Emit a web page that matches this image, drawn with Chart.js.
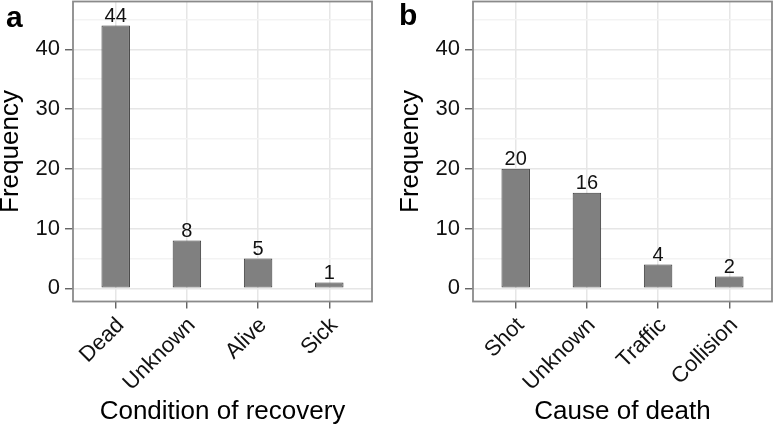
<!DOCTYPE html>
<html>
<head>
<meta charset="utf-8">
<script src="https://cdn.jsdelivr.net/npm/chart.js@4"></script>
<style>
  html, body { margin: 0; padding: 0; background: #fff; }
  body { width: 775px; height: 426px; position: relative; overflow: hidden; font-family: "Liberation Sans", Arial, sans-serif; }
  .panel { position: absolute; top: 0; height: 426px; }
  .letter { position: absolute; font-weight: bold; font-size: 30px; color: #000; line-height: 1; }
</style>
</head>
<body>
<div class="panel" id="pa" style="left:0;width:387px;"><canvas id="ca"></canvas></div>
<div class="panel" id="pb" style="left:400px;width:375px;"><canvas id="cb"></canvas></div>
<div class="letter" style="left:6px;top:2px;">a</div>
<div class="letter" style="left:399px;top:0px;">b</div>
<script>
// ---- data ----
const recoveryCategories = ["Dead", "Unknown", "Alive", "Sick"];
const recoveryCounts = [44, 8, 5, 1];
const deathCategories = ["Shot", "Unknown", "Traffic", "Collision"];
const deathCounts = [20, 16, 4, 2];
const yTickValues = [0, 5, 10, 15, 20, 25, 30, 35, 40, 45];
const yTickLabels = ["0", "", "10", "", "20", "", "30", "", "40", ""];
const yLimits = [-2.2, 48];
const xTitles = ["Condition of recovery", "Cause of death"];
const yTitle = "Frequency";

const FONT = "'Liberation Sans', Arial, Helvetica, sans-serif";

const borderPlugin = {
  id: 'panelBorder',
  afterDraw(chart) {
    const a = chart.chartArea, ctx = chart.ctx;
    ctx.save();
    ctx.strokeStyle = '#8a8a8a';
    ctx.lineWidth = 1.8;
    ctx.strokeRect(a.left, a.top, a.right - a.left, a.bottom - a.top);
    ctx.restore();
  }
};
const valueLabelPlugin = {
  id: 'valueLabels',
  afterDatasetsDraw(chart) {
    const ctx = chart.ctx;
    const meta = chart.getDatasetMeta(0);
    const ds = chart.data.datasets[0];
    ctx.save();
    ctx.font = "20px " + FONT;
    ctx.fillStyle = '#111';
    ctx.textAlign = 'center';
    ctx.textBaseline = 'alphabetic';
    meta.data.forEach((bar, i) => {
      ctx.fillText(String(ds.data[i].y), bar.x, bar.y - 3.5);
    });
    ctx.restore();
  }
};

function makeChart(canvasId, cats, counts, xTitle, rightPad) {
  const points = counts.map((v, i) => ({ x: i, y: v }));
  return new Chart(document.getElementById(canvasId), {
    type: 'bar',
    data: {
      datasets: [{
        data: points,
        backgroundColor: '#808080',
        borderColor: '#3a3a3a',
        borderWidth: 1,
        borderSkipped: false,
        barPercentage: 0.4,
        categoryPercentage: 1.0
      }]
    },
    plugins: [borderPlugin, valueLabelPlugin],
    options: {
      responsive: true,
      maintainAspectRatio: false,
      animation: false,
      layout: { padding: { top: 1.5, right: rightPad, bottom: 0, left: 0 } },
      plugins: { legend: { display: false }, tooltip: { enabled: false } },
      scales: {
        x: {
          type: 'linear',
          offset: false,
          min: -0.6,
          max: cats.length - 0.4,
          afterBuildTicks(scale) {
            scale.ticks = cats.map((c, i) => ({ value: i }));
          },
          afterFit(scale) {
            scale.height = 426 - 301.5;
            scale.paddingLeft = 0; scale.paddingRight = 0;
          },
          border: { display: false },
          grid: {
            offset: false,
            color: '#e6e6e6',
            lineWidth: 1.5,
            tickColor: '#555',
            tickWidth: 1.3,
            tickLength: 7,
            drawTicks: true
          },
          ticks: {
            autoSkip: false,
            minRotation: 45,
            maxRotation: 45,
            padding: 4,
            labelOffset: 5,
            color: '#111',
            font: { family: FONT, size: 22 },
            callback: (v) => cats[v]
          },
          title: {
            display: true,
            text: xTitle,
            color: '#000',
            font: { family: FONT, size: 26, lineHeight: 1.1 },
            padding: { top: 0, bottom: 0 }
          }
        },
        y: {
          type: 'linear',
          min: yLimits[0],
          max: yLimits[1],
          afterBuildTicks(scale) {
            scale.ticks = yTickValues.map(v => ({ value: v }));
          },
          afterFit(scale) {
            scale.width = 73;
            scale.paddingTop = 0; scale.paddingBottom = 0;
          },
          border: { display: false },
          grid: {
            color: (ctx) => (ctx.tick && ctx.tick.value % 10 === 0) ? '#e6e6e6' : '#f3f3f3',
            lineWidth: 1.5,
            tickColor: (ctx) => (ctx.tick && ctx.tick.value % 10 === 0) ? '#555' : 'rgba(0,0,0,0)',
            tickWidth: 1.3,
            tickLength: 8,
            drawTicks: true
          },
          ticks: {
            autoSkip: false,
            padding: 5,
            color: '#111',
            font: { family: FONT, size: 22 },
            callback: (v) => yTickLabels[yTickValues.indexOf(v)]
          },
          title: {
            display: true,
            text: yTitle,
            color: '#000',
            font: { family: FONT, size: 26, lineHeight: 0.85 },
            padding: { top: 0, bottom: 0 }
          }
        }
      }
    }
  });
}

makeChart('ca', recoveryCategories, recoveryCounts, xTitles[0], 15);
makeChart('cb', deathCategories, deathCounts, xTitles[1], 3);
</script>
</body>
</html>
